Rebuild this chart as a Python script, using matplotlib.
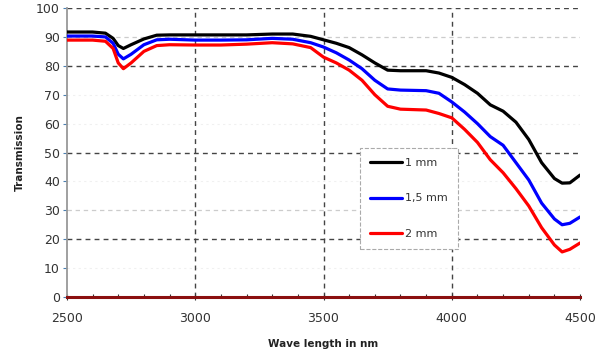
import matplotlib
matplotlib.use("Agg")
import matplotlib.pyplot as plt

# wavelengths (nm) sampled along the curves
wavelength = [2500, 2600, 2650, 2680, 2700, 2720, 2750, 2800, 2850, 2900,
              3000, 3100, 3200, 3300, 3380, 3450, 3500, 3550, 3600, 3650,
              3700, 3750, 3800, 3900, 3950, 4000, 4050, 4100, 4150, 4200,
              4250, 4300, 4350, 4400, 4430, 4460, 4500]

t_1mm = [91.7, 91.7, 91.3, 89.5, 87.0, 86.0, 87.3, 89.3, 90.6, 90.7,
         90.7, 90.7, 90.7, 91.0, 91.0, 90.2, 89.0, 87.8, 86.3, 83.8,
         81.0, 78.5, 78.3, 78.3, 77.5, 76.0, 73.5, 70.5, 66.5, 64.3,
         60.5, 54.5, 46.5, 41.0, 39.4, 39.5, 42.2]

t_15mm = [90.3, 90.3, 90.0, 87.8, 84.0, 82.4, 84.0, 87.3, 89.0, 89.2,
          88.9, 88.9, 89.0, 89.5, 89.2, 88.0, 86.5, 84.5, 82.0, 79.0,
          75.0, 72.0, 71.6, 71.4, 70.5, 67.5, 64.0, 60.0, 55.5, 52.5,
          46.5, 40.5, 32.5, 27.0, 25.0, 25.5, 27.7]

t_2mm = [88.9, 88.9, 88.5, 86.0, 81.0, 79.0, 81.0, 85.0, 87.0, 87.3,
         87.2, 87.2, 87.5, 88.0, 87.6, 86.3, 83.0, 81.0, 78.5, 75.0,
         70.0, 66.0, 65.0, 64.7, 63.5, 62.0, 58.0, 53.5, 47.5, 43.0,
         37.5, 31.5, 24.0, 18.0, 15.6, 16.5, 18.7]

baseline_x = [2500, 4500]
baseline_y = [0, 0]

series = [("1 mm", t_1mm, "black"),
          ("1,5 mm", t_15mm, "#0000ff"),
          ("2 mm", t_2mm, "#ff0000")]

dark_grid = [20, 50, 80, 100]
light_grid = [30, 90]
faint_grid = [10, 40, 60, 70]
x_grid = [3000, 3500, 4000]

fig = plt.figure(figsize=(6.03, 3.49), dpi=100)
ax = fig.add_axes([0.111, 0.149, 0.851, 0.828])

for g in dark_grid:
    ax.axhline(g, color="#444444", lw=1.0, ls=(0, (3.5, 3)), zorder=1)
for g in light_grid:
    ax.axhline(g, color="#cccccc", lw=0.9, ls=(0, (3.5, 3)), zorder=1)
for g in faint_grid:
    ax.axhline(g, color="#f0f0f0", lw=0.8, ls=(0, (2, 3)), zorder=1)
for g in x_grid:
    ax.axvline(g, color="#444444", lw=1.0, ls=(0, (3.5, 3)), zorder=1)

for label, vals, col in series:
    ax.plot(wavelength, vals, color=col, lw=2.3, label=label, zorder=3,
            solid_capstyle="round")

ax.plot(baseline_x, baseline_y, color="#8b1010", lw=2.2, zorder=4,
        clip_on=False)

ax.set_xlim(2500, 4500)
ax.set_ylim(0, 100)
ax.set_xticks(range(2500, 4501, 500))
ax.set_xticks(range(2500, 4501, 100), minor=True)
ax.set_yticks(range(0, 101, 10))

for s in ["top", "right", "bottom"]:
    ax.spines[s].set_visible(False)
ax.spines["left"].set_color("#999999")
ax.spines["left"].set_linewidth(1.3)

ax.tick_params(axis="y", length=3, width=0.8, color="#4a7fb0",
               labelsize=9, labelcolor="#333333", pad=2)
ax.tick_params(axis="x", which="major", length=4, width=0.8, color="#333333",
               direction="inout", labelsize=9, labelcolor="#333333", pad=9)
ax.tick_params(axis="x", which="minor", length=2.5, width=0.8,
               color="#333333", direction="in")

ax.set_xlabel("Wave length in nm", fontsize=7.5, fontweight="bold",
              color="#222222", labelpad=10)
ax.set_ylabel("Transmission", fontsize=7.5, fontweight="bold",
              color="#222222", labelpad=8)

leg = ax.legend(loc="upper left", bbox_to_anchor=(0.572, 0.516),
                borderaxespad=0, frameon=True, fancybox=False,
                fontsize=8, labelspacing=2.3, handlelength=2.8,
                handletextpad=0.3, borderpad=0.9)
frame = leg.get_frame()
frame.set_facecolor("white")
frame.set_alpha(1)
frame.set_edgecolor("#aaaaaa")
frame.set_linestyle("--")
frame.set_linewidth(0.8)
leg.set_zorder(5)
for t in leg.get_texts():
    t.set_color("#333333")

fig.savefig("out.png", dpi=100)
